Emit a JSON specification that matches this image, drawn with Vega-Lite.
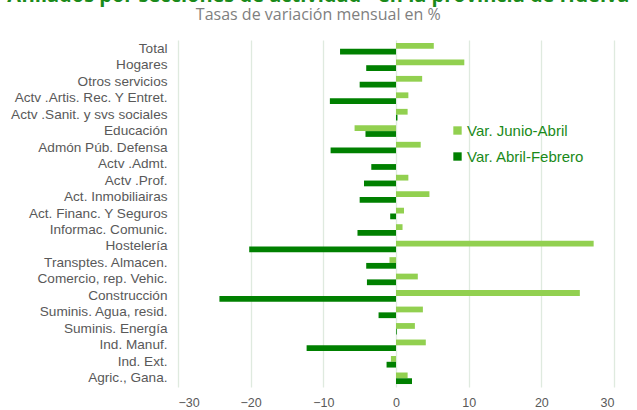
{
  "$schema": "https://vega.github.io/schema/vega-lite/v6.json",
  "width": 436,
  "height": 347,
  "autosize": {"type": "none"},
  "padding": {"left": 178, "top": 40, "right": 23, "bottom": 23},
  "background": "white",
  "title": {
    "text": "Afiliados por secciones de actividad - en la provincia de Huelva",
    "subtitle": "Tasas de variación mensual en %",
    "anchor": "middle",
    "frame": "bounds",
    "dx": 6,
    "font": "Open Sans",
    "fontSize": 20,
    "fontWeight": "bold",
    "color": "#1a8a1a",
    "subtitleFont": "Open Sans",
    "subtitleFontSize": 16,
    "subtitleColor": "#7f7f7f",
    "subtitlePadding": 1,
    "offset": 17
  },
  "data": {
    "values": [
      {"cat": "Total", "serie": "Var. Junio-Abril", "v": 5.2},
      {"cat": "Total", "serie": "Var. Abril-Febrero", "v": -7.7},
      {"cat": "Hogares", "serie": "Var. Junio-Abril", "v": 9.4},
      {"cat": "Hogares", "serie": "Var. Abril-Febrero", "v": -4.1},
      {"cat": "Otros servicios", "serie": "Var. Junio-Abril", "v": 3.6},
      {"cat": "Otros servicios", "serie": "Var. Abril-Febrero", "v": -5.0},
      {"cat": "Actv .Artis. Rec. Y Entret.", "serie": "Var. Junio-Abril", "v": 1.7},
      {"cat": "Actv .Artis. Rec. Y Entret.", "serie": "Var. Abril-Febrero", "v": -9.1},
      {"cat": "Actv .Sanit. y svs sociales", "serie": "Var. Junio-Abril", "v": 1.6},
      {"cat": "Actv .Sanit. y svs sociales", "serie": "Var. Abril-Febrero", "v": 0.2},
      {"cat": "Educación", "serie": "Var. Junio-Abril", "v": -5.7},
      {"cat": "Educación", "serie": "Var. Abril-Febrero", "v": -4.2},
      {"cat": "Admón Púb. Defensa", "serie": "Var. Junio-Abril", "v": 3.4},
      {"cat": "Admón Púb. Defensa", "serie": "Var. Abril-Febrero", "v": -9.0},
      {"cat": "Actv .Admt.", "serie": "Var. Junio-Abril", "v": 0.0},
      {"cat": "Actv .Admt.", "serie": "Var. Abril-Febrero", "v": -3.4},
      {"cat": "Actv .Prof.", "serie": "Var. Junio-Abril", "v": 1.7},
      {"cat": "Actv .Prof.", "serie": "Var. Abril-Febrero", "v": -4.4},
      {"cat": "Act. Inmobiliairas", "serie": "Var. Junio-Abril", "v": 4.6},
      {"cat": "Act. Inmobiliairas", "serie": "Var. Abril-Febrero", "v": -5.0},
      {"cat": "Act. Financ. Y Seguros", "serie": "Var. Junio-Abril", "v": 1.1},
      {"cat": "Act. Financ. Y Seguros", "serie": "Var. Abril-Febrero", "v": -0.8},
      {"cat": "Informac. Comunic.", "serie": "Var. Junio-Abril", "v": 0.9},
      {"cat": "Informac. Comunic.", "serie": "Var. Abril-Febrero", "v": -5.3},
      {"cat": "Hostelería", "serie": "Var. Junio-Abril", "v": 27.2},
      {"cat": "Hostelería", "serie": "Var. Abril-Febrero", "v": -20.2},
      {"cat": "Transptes. Almacen.", "serie": "Var. Junio-Abril", "v": -0.9},
      {"cat": "Transptes. Almacen.", "serie": "Var. Abril-Febrero", "v": -4.1},
      {"cat": "Comercio, rep. Vehic.", "serie": "Var. Junio-Abril", "v": 3.0},
      {"cat": "Comercio, rep. Vehic.", "serie": "Var. Abril-Febrero", "v": -4.0},
      {"cat": "Construcción", "serie": "Var. Junio-Abril", "v": 25.3},
      {"cat": "Construcción", "serie": "Var. Abril-Febrero", "v": -24.3},
      {"cat": "Suminis. Agua, resid.", "serie": "Var. Junio-Abril", "v": 3.7},
      {"cat": "Suminis. Agua, resid.", "serie": "Var. Abril-Febrero", "v": -2.4},
      {"cat": "Suminis. Energía", "serie": "Var. Junio-Abril", "v": 2.6},
      {"cat": "Suminis. Energía", "serie": "Var. Abril-Febrero", "v": 0.1},
      {"cat": "Ind. Manuf.", "serie": "Var. Junio-Abril", "v": 4.1},
      {"cat": "Ind. Manuf.", "serie": "Var. Abril-Febrero", "v": -12.3},
      {"cat": "Ind. Ext.", "serie": "Var. Junio-Abril", "v": -0.7},
      {"cat": "Ind. Ext.", "serie": "Var. Abril-Febrero", "v": -1.3},
      {"cat": "Agric., Gana.", "serie": "Var. Junio-Abril", "v": 1.6},
      {"cat": "Agric., Gana.", "serie": "Var. Abril-Febrero", "v": 2.2}
    ]
  },
  "mark": {"type": "bar"},
  "encoding": {
    "y": {
      "field": "cat",
      "type": "nominal",
      "sort": null,
      "scale": {"paddingInner": 0.3, "paddingOuter": 0.18},
      "axis": {
        "title": null,
        "ticks": false,
        "domain": false,
        "grid": false,
        "labelFont": "Liberation Sans",
        "labelFontSize": 13.6,
        "labelColor": "#595959",
        "labelPadding": 11,
        "labelLimit": 300
      }
    },
    "yOffset": {
      "field": "serie",
      "type": "nominal",
      "sort": ["Var. Junio-Abril", "Var. Abril-Febrero"],
      "scale": {"paddingInner": 0}
    },
    "x": {
      "field": "v",
      "type": "quantitative",
      "scale": {"domain": [-30, 30], "nice": false},
      "axis": {
        "title": null,
        "values": [-30, -20, -10, 0, 10, 20, 30],
        "ticks": false,
        "domain": false,
        "gridColor": "#dfeadf",
        "gridWidth": 1.3,
        "labelFont": "Liberation Sans",
        "labelFontSize": 12.5,
        "labelColor": "#595959",
        "labelPadding": 9
      }
    },
    "color": {
      "field": "serie",
      "type": "nominal",
      "sort": ["Var. Junio-Abril", "Var. Abril-Febrero"],
      "scale": {"domain": ["Var. Junio-Abril", "Var. Abril-Febrero"], "range": ["#92d050", "#008000"]},
      "legend": {
        "title": null,
        "orient": "none",
        "legendX": 272,
        "legendY": 83,
        "symbolType": "square",
        "symbolSize": 70,
        "symbolStrokeWidth": 0,
        "labelFont": "Liberation Sans",
        "labelFontSize": 15,
        "labelColor": "#1a8a1a",
        "rowPadding": 10,
        "labelOffset": 2
      }
    }
  },
  "config": {"view": {"stroke": null}}
}
